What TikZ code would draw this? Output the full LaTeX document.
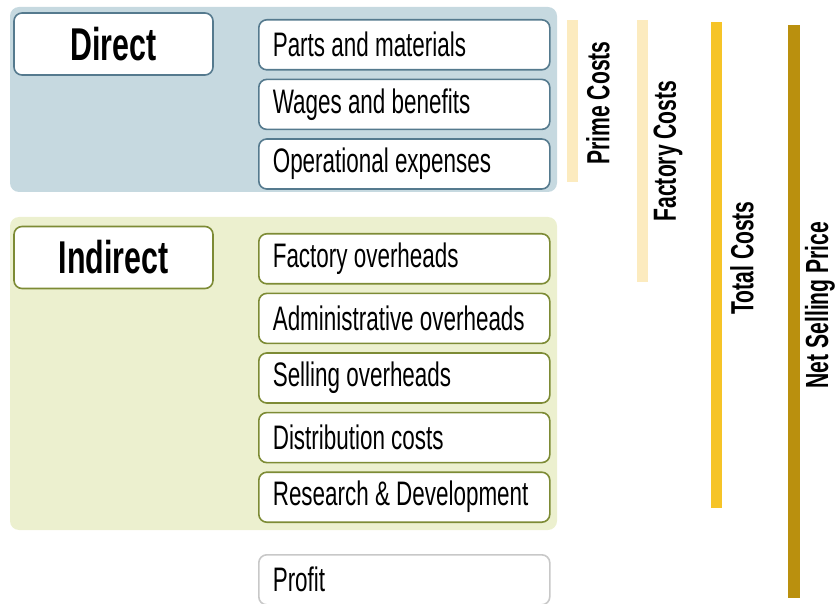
\documentclass[tikz,border=0pt]{standalone}
\usepackage{fontspec}
\setmainfont{Liberation Sans}[FakeStretch=0.66]
\usetikzlibrary{positioning, calc}
\definecolor{directfill}{HTML}{C6D9E0}
\definecolor{directline}{HTML}{557A8E}
\definecolor{indirectfill}{HTML}{ECF0CF}
\definecolor{indirectline}{HTML}{7D8B35}
\definecolor{profitline}{HTML}{C8C8C8}
\definecolor{primebar}{HTML}{FCEBBF}
\definecolor{totalbar}{HTML}{F6C428}
\definecolor{netbar}{HTML}{BA900E}
\tikzset{
  costs/.style={
	x=1pt, y=-1pt, % one unit per pixel of the layout
	node distance=8pt, % gap between two stacked items
  },
  panel/.style={rounded corners=9pt}, % the coloured backgrounds
  group/.style={draw, fill=white, line width=1.6pt, rounded corners=8pt,
	minimum width=199pt, minimum height=62pt, inner sep=0pt,
	font=\fontsize{46}{50}\selectfont\bfseries}, % Direct / Indirect heads
  item/.style={draw, fill=white, line width=1.6pt, rounded corners=8pt,
	text width=263pt, inner xsep=14pt, inner ysep=0pt, minimum height=50pt,
	align=left, font=\fontsize{34}{36}\selectfont,
	execute at begin node={\spaceskip=0pt\relax}}, % one cost entry, font's own spaces
  bar/.style={line width=0pt}, % the coloured vertical bars
  barlabel/.style={rotate=90, font=\fontsize{32}{34}\selectfont\bfseries}, % text next to a bar
}
\begin{document}
\begin{tikzpicture}[costs]
	  \useasboundingbox (0,0) rectangle (836,604);
	  % backgrounds
	  \fill[panel, directfill] (10,7) rectangle (557,192);
	  \fill[panel, indirectfill] (10,217) rectangle (557,530);

	  % direct costs
	  \node[group, draw=directline] (direct) at (113.5,44) {Direct};
	  \node[item, draw=directline, anchor=north west] (parts) at (258,19) {Parts and materials};
	  \node[item, draw=directline, below=of parts] (wages) {Wages and benefits};
	  \node[item, draw=directline, below=of wages] (operational) {Operational expenses};

	  % indirect costs
	  \node[group, draw=indirectline] (indirect) at (113.5,257.5) {Indirect};
	  \node[item, draw=indirectline, anchor=north west] (factory) at (258,233) {Factory overheads};
	  \node[item, draw=indirectline, below=of factory] (admin) {Administrative overheads};
	  \node[item, draw=indirectline, below=of admin] (selling) {Selling overheads};
	  \node[item, draw=indirectline, below=of selling] (distribution) {Distribution costs};
	  \node[item, draw=indirectline, below=of distribution] (research) {Research \& Development};

	  \node[item, draw=profitline, anchor=north west] (profit) at (258,554) {Profit};

	  % bars
	  \fill[bar, primebar] (567,20) rectangle (578,182);
	  \node[barlabel] (prime) at (598,103) {Prime Costs};
	  \fill[bar, primebar] (637,20) rectangle (648,282);
	  \node[barlabel] (factorycosts) at (668,151) {Factory Costs};
	  \fill[bar, totalbar] (711,22) rectangle (722,508);
	  \node[barlabel] (total) at (742,258) {Total Costs};
	  \fill[bar, netbar] (788,25) rectangle (800,598);
	  \node[barlabel] (net) at (820,305) {Net Selling Price};
\end{tikzpicture}
\end{document}
